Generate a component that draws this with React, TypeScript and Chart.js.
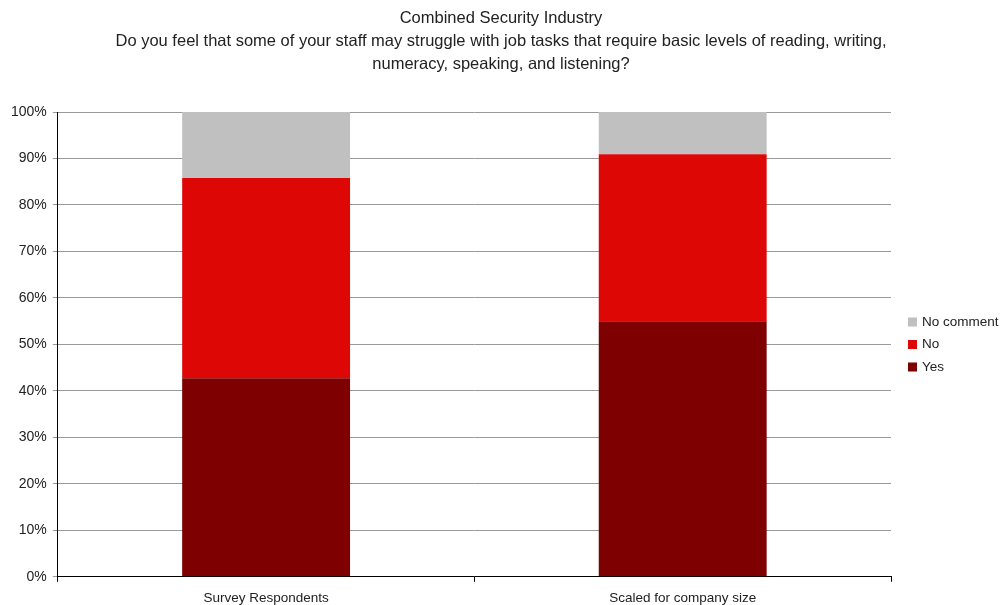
import React, { useEffect, useRef } from "react";
import { Chart, registerables } from "chart.js";

Chart.register(...registerables);

const categories = ["Survey Respondents", "Scaled for company size"];
const seriesNames = ["Yes", "No", "No comment"];
const seriesColors = ["#7F0000", "#DD0806", "#C0C0C0"];
const yesValues = [42.7, 55.0];
const noValues = [43.1, 35.9];
const noCommentValues = [14.2, 9.1];
const titleLines = [
  "Combined Security Industry",
  "Do you feel that some of your staff may struggle with job tasks that require basic levels of reading, writing,",
  "numeracy, speaking, and listening?",
];

const FONT = "'Liberation Sans', Arial, sans-serif";

const sideLegendAndTitle = {
  id: "sideLegendAndTitle",
  afterDraw(chart: any) {
    const ctx = chart.ctx;
    ctx.save();
    // title
    ctx.font = `16.5px ${FONT}`;
    ctx.fillStyle = "#222";
    ctx.textAlign = "center";
    ctx.textBaseline = "middle";
    titleLines.forEach((t, i) => ctx.fillText(t, 501, 18.5 + i * 23));
    // legend
    const items = chart.data.datasets.map((d: any) => ({ label: d.label, color: d.backgroundColor })).reverse();
    const x = 908;
    const y0 = 322;
    const step = 22.5;
    ctx.font = `13.5px ${FONT}`;
    ctx.textAlign = "left";
    items.forEach((it: any, i: number) => {
      const cy = y0 + i * step;
      ctx.fillStyle = it.color;
      ctx.fillRect(x, cy - 4.5, 9, 9);
      ctx.fillStyle = "#222";
      ctx.fillText(it.label, x + 14, cy);
    });
    ctx.restore();
  },
};

export default function App() {
  const ref = useRef<HTMLCanvasElement | null>(null);
  useEffect(() => {
    document.body.style.margin = "0";
    const chart = new Chart(ref.current!, {
      type: "bar",
      data: {
        labels: categories,
        datasets: [
          { label: seriesNames[0], data: yesValues, backgroundColor: seriesColors[0] },
          { label: seriesNames[1], data: noValues, backgroundColor: seriesColors[1] },
          { label: seriesNames[2], data: noCommentValues, backgroundColor: seriesColors[2] },
        ],
      },
      options: {
        animation: false,
        responsive: false,
        maintainAspectRatio: false,
        layout: { padding: { left: 5, right: 114, top: 112, bottom: -9 } },
        datasets: { bar: { categoryPercentage: 1, barPercentage: 0.403 } },
        plugins: {
          title: { display: false },
          legend: { display: false },
          tooltip: { enabled: false },
        },
        scales: {
          x: {
            stacked: true,
            grid: { display: true, drawOnChartArea: false, offset: true, tickLength: 5, color: "#000" },
            border: { color: "#000", width: 1 },
            ticks: { color: "#222", font: { family: FONT, size: 13.5 }, padding: 8 },
          },
          y: {
            stacked: true,
            min: 0,
            max: 100,
            grid: { color: "#999", tickLength: 5, lineWidth: 1 },
            border: { color: "#000", width: 1 },
            ticks: {
              stepSize: 10,
              color: "#222",
              font: { family: FONT, size: 14 },
              padding: 6,
              callback: (v: any) => v + "%",
            },
          },
        },
      },
      plugins: [sideLegendAndTitle],
    });
    return () => chart.destroy();
  }, []);
  return (
    <div style={{ position: "absolute", left: 0, top: 0, width: 1005, height: 605 }}>
      <canvas ref={ref} width={1005} height={605} />
    </div>
  );
}
